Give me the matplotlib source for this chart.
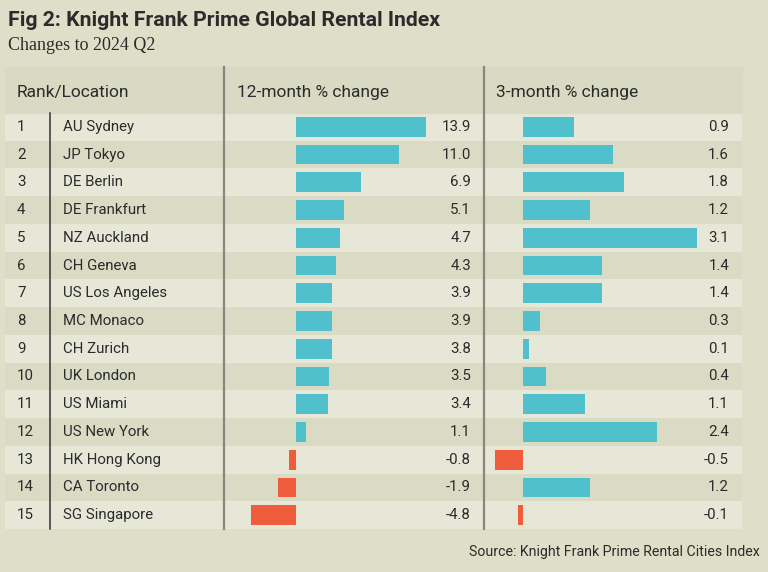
import matplotlib
matplotlib.use('Agg')
import matplotlib.pyplot as plt
from matplotlib.lines import Line2D
from matplotlib.patches import Rectangle
import matplotlib.transforms as mtransforms

ranks = list(range(1, 16))
locations = ['AU Sydney', 'JP Tokyo', 'DE Berlin', 'DE Frankfurt', 'NZ Auckland',
             'CH Geneva', 'US Los Angeles', 'MC Monaco', 'CH Zurich', 'UK London',
             'US Miami', 'US New York', 'HK Hong Kong', 'CA Toronto', 'SG Singapore']
change_12m = [13.9, 11.0, 6.9, 5.1, 4.7, 4.3, 3.9, 3.9, 3.8, 3.5, 3.4, 1.1, -0.8, -1.9, -4.8]
change_3m = [0.9, 1.6, 1.8, 1.2, 3.1, 1.4, 1.4, 0.3, 0.1, 0.4, 1.1, 2.4, -0.5, 1.2, -0.1]

bg = '#dfdfc9'
header_col = '#d9dac3'
light_row = '#e6e7d6'
dark_row = '#dadbc5'
teal = '#4fc0cc'
red = '#f05d3c'
txt = '#2b2b2b'
font = 'Roboto'

W, H = 768, 572
fig = plt.figure(figsize=(W / 100, H / 100), dpi=100, facecolor=bg)

def fx(px):
    return px / W

def fy(py):
    return 1 - py / H

top_hdr, top_rows, bottom = 67, 113, 529
left, right = 5, 742

# header band
fig.patches.append(Rectangle((fx(left), fy(top_rows)), fx(right) - fx(left),
                             fy(top_hdr) - fy(top_rows), transform=fig.transFigure,
                             color=header_col, zorder=0))

rect = [fx(left), fy(bottom), fx(right) - fx(left), fy(top_rows) - fy(bottom)]
ax_rows = fig.add_axes(rect)
ax_rows.set_xlim(0, 1)
ax_rows.set_ylim(14.5, -0.5)
ax_rows.axis('off')
for i, (r, loc) in enumerate(zip(ranks, locations)):
    ax_rows.axhspan(i - 0.5, i + 0.5, color=light_row if i % 2 == 0 else dark_row, lw=0)
    ax_rows.text((17 - left) / (right - left), i, str(r), ha='left', va='center',
                 fontsize=10.8, color=txt, family=font)
    ax_rows.text((63 - left) / (right - left), i, loc, ha='left', va='center',
                 fontsize=10.8, color=txt, family=font)

def bar_panel(x0, x1, xlim, vals, label_px):
    ax = fig.add_axes([fx(x0), fy(bottom), fx(x1) - fx(x0), fy(top_rows) - fy(bottom)],
                      sharey=ax_rows)
    ax.patch.set_alpha(0)
    ax.set_xlim(*xlim)
    ax.axis('off')
    y = list(range(len(vals)))
    ax.barh(y, vals, height=0.71, color=[teal if v >= 0 else red for v in vals])
    trans = mtransforms.blended_transform_factory(ax.transAxes, ax.transData)
    for i, v in enumerate(vals):
        ax.text((label_px - x0) / (x1 - x0), i, f'{v:.1f}', transform=trans,
                ha='right', va='center', fontsize=10.8, color=txt, family=font)
    return ax

bar_panel(224, 484, (-7.7, 20.1), change_12m, 471)
bar_panel(484, 742, (-0.70, 3.91), change_3m, 729)

# separators
for x, y0, c, lw in [(224, top_hdr, '#86877d', 1.6), (484, top_hdr, '#86877d', 1.6),
                     (50, top_rows, '#333333', 1.1)]:
    fig.add_artist(Line2D([fx(x), fx(x)], [fy(y0), fy(bottom)], color=c, lw=lw,
                          transform=fig.transFigure))

# header text
hy = fy(93)
fig.text(fx(17), hy, 'Rank/Location', ha='left', va='center', fontsize=12.5,
         color=txt, family=font)
fig.text(fx(237), hy, '12-month % change', ha='left', va='center', fontsize=12.5,
         color=txt, family=font)
fig.text(fx(496), hy, '3-month % change', ha='left', va='center', fontsize=12.5,
         color=txt, family=font)

fig.text(fx(8), fy(20), 'Fig 2: Knight Frank Prime Global Rental Index', ha='left',
         va='center', fontsize=15.3, fontweight='bold', color=txt, family=font)
fig.text(fx(8), fy(45), 'Changes to 2024 Q2', ha='left', va='center', fontsize=13,
         color=txt, family='Liberation Serif')
fig.text(fx(760), fy(552), 'Source: Knight Frank Prime Rental Cities Index', ha='right',
         va='center', fontsize=10.2, color=txt, family=font)

fig.savefig('out.png', dpi=100, facecolor=bg)
